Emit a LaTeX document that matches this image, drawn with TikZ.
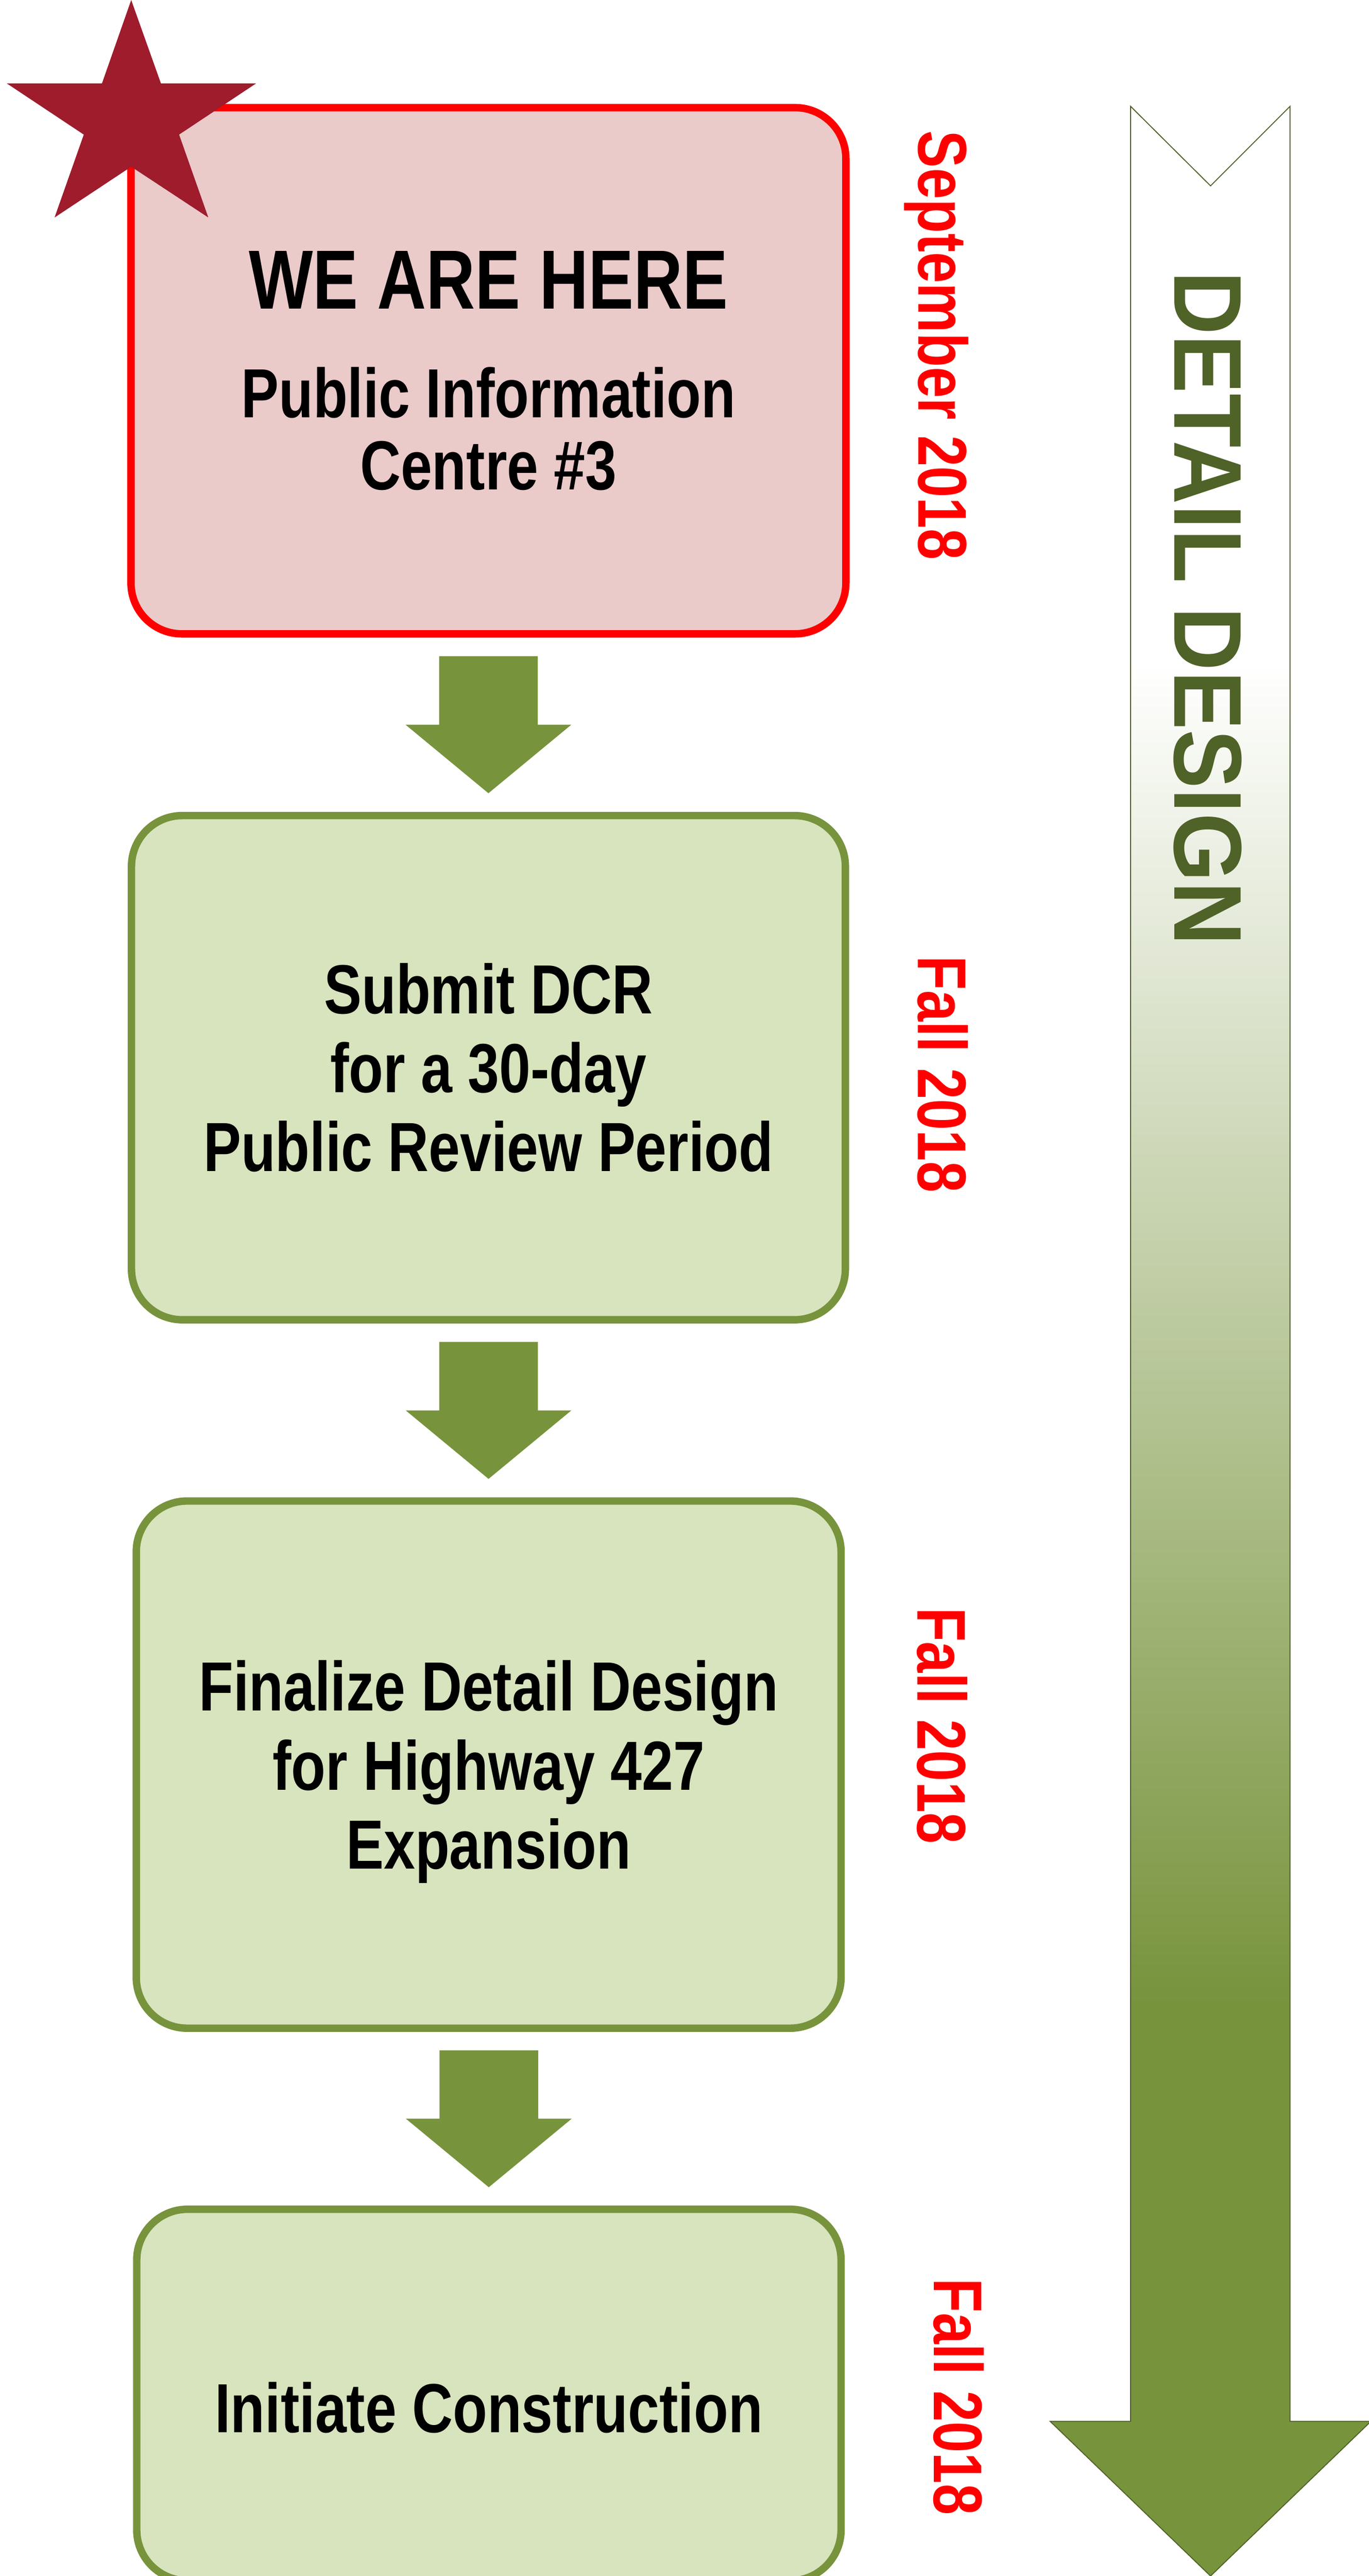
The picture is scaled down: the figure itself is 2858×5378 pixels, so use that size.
\documentclass[tikz,border=0pt]{standalone}
\usepackage{fontspec}
\setmainfont{Liberation Sans}[FakeStretch=0.81]
\newfontfamily\widefont{Liberation Sans}[FakeStretch=0.915]
\usetikzlibrary{calc}
\pgfdeclareverticalshading{phasefade}{100bp}{rgb(0bp)=(0.467,0.576,0.235); rgb(36.5bp)=(0.467,0.576,0.235); rgb(63.75bp)=(1,1,1); rgb(100bp)=(1,1,1)}

\begin{document}
\begin{tikzpicture}[x=0.01cm, y=-0.01cm,
  herebox/.style={draw=redline, fill=pinkfill, line width=0.155cm, rounded corners=1.06cm, inner sep=0pt, align=center, font=\fontsize{41.3}{42.7}\selectfont\bfseries},
  phasebox/.style={draw=boxgreen, fill=palegreen, line width=0.155cm, rounded corners=1.06cm, inner sep=0pt, align=center, font=\fontsize{41.3}{46.9}\selectfont\bfseries},
  datelabel/.style={rotate=-90, anchor=base, text=redline, inner sep=0pt, font=\fontsize{41}{49}\selectfont\bfseries},
  downarrow/.pic={\fill[boxgreen] (-103,-143) -- (103,-143) -- (103,0) -- (173,0) -- (0,143) -- (-173,0) -- (-103,0) -- cycle;}]
\definecolor{redline}{HTML}{FF0000}
\definecolor{pinkfill}{HTML}{EBCACA}
\definecolor{boxgreen}{HTML}{77933C}
\definecolor{palegreen}{HTML}{D7E4BD}
\definecolor{darkolive}{HTML}{4F6228}
\definecolor{starred}{HTML}{9E1C2C}
\useasboundingbox (0,0) rectangle (2858,5378);

% phase arrow on the right
\shade[shading=phasefade, draw=darkolive, line width=0.02cm]
  (2361,222) -- (2528,388) -- (2694,222) -- (2694,5055) -- (2863,5055)
  -- (2528,5378) -- (2193,5055) -- (2361,5055) -- cycle;
\node[rotate=-90, anchor=base, inner sep=0pt, text=darkolive, font=\widefont\fontsize{57.2}{60}\selectfont\bfseries] (phase) at (2453,1270) {DETAIL DESIGN};

% steps
\node[herebox, minimum width=14.92cm, minimum height=10.98cm] (b1) at (1020,774)
  {{\fontsize{49.8}{55}\selectfont WE ARE HERE}\\[21.9pt]Public Information\\Centre \#3};
\node[phasebox, minimum width=14.90cm, minimum height=10.52cm] (b2) at (1020,2229)
  {Submit DCR\\for a 30-day\\Public Review Period};
\node[phasebox, minimum width=14.71cm, minimum height=11.00cm, text depth=0pt] (b3) at (1020.5,3684)
  {Finalize Detail Design\\for Highway 427\\Expansion};
\node[phasebox, minimum width=14.70cm, minimum height=7.75cm, text height=1.56cm, text depth=0pt] (b4) at (1021,5000)
  {Initiate Construction};

\foreach \a/\b in {b1/b2,b2/b3,b3/b4}
  \pic at ($(\a.south)!0.5!(\b.north)$) {downarrow};

% dates
\foreach \i/\txt/\xpos/\ypos in {1/September 2018/1918/721,2/Fall 2018/1917/2243,3/Fall 2018/1916/3603,4/Fall 2018/1951/5004}
  \node[datelabel] (date\i) at (\xpos,\ypos) {\txt};

% star
\fill[starred] (274,0) -- (336,174) -- (535,174) -- (374,281) -- (435,454) -- (274,348)
  -- (114,454) -- (175,281) -- (14,174) -- (213,174) -- cycle;
\end{tikzpicture}
\end{document}
